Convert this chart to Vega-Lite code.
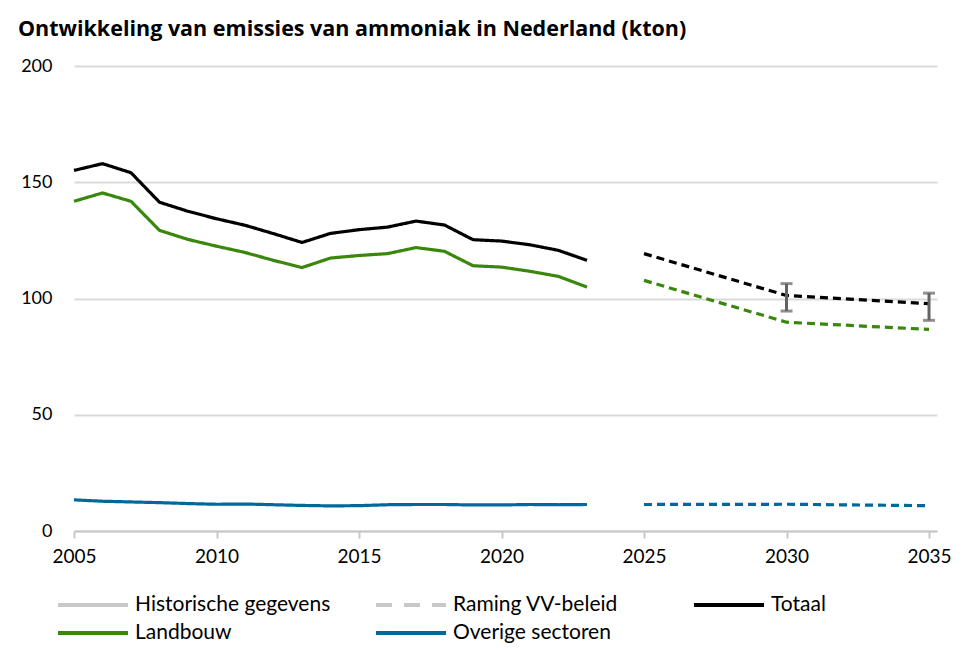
{
  "$schema": "https://vega.github.io/schema/vega-lite/v6.json",
  "width": 863,
  "height": 465,
  "autosize": "none",
  "padding": {"left": 74, "top": 66, "right": 39, "bottom": 121},
  "background": "white",
  "title": {
    "text": "Ontwikkeling van emissies van ammoniak in Nederland (kton)",
    "anchor": "start",
    "frame": "group",
    "font": "Open Sans",
    "fontSize": 21.5,
    "fontWeight": "bold",
    "color": "#000000",
    "dx": -56,
    "offset": 17
  },
  "config": {
    "view": {"stroke": null},
    "font": "Lato"
  },
  "datasets": {
    "series": [
      {"year": 2005, "value": 155.1, "serie": "Totaal", "type": "hist"},
      {"year": 2006, "value": 158.0, "serie": "Totaal", "type": "hist"},
      {"year": 2007, "value": 154.1, "serie": "Totaal", "type": "hist"},
      {"year": 2008, "value": 141.4, "serie": "Totaal", "type": "hist"},
      {"year": 2009, "value": 137.5, "serie": "Totaal", "type": "hist"},
      {"year": 2010, "value": 134.3, "serie": "Totaal", "type": "hist"},
      {"year": 2011, "value": 131.5, "serie": "Totaal", "type": "hist"},
      {"year": 2012, "value": 127.9, "serie": "Totaal", "type": "hist"},
      {"year": 2013, "value": 124.1, "serie": "Totaal", "type": "hist"},
      {"year": 2014, "value": 128.0, "serie": "Totaal", "type": "hist"},
      {"year": 2015, "value": 129.6, "serie": "Totaal", "type": "hist"},
      {"year": 2016, "value": 130.7, "serie": "Totaal", "type": "hist"},
      {"year": 2017, "value": 133.3, "serie": "Totaal", "type": "hist"},
      {"year": 2018, "value": 131.6, "serie": "Totaal", "type": "hist"},
      {"year": 2019, "value": 125.3, "serie": "Totaal", "type": "hist"},
      {"year": 2020, "value": 124.7, "serie": "Totaal", "type": "hist"},
      {"year": 2021, "value": 123.1, "serie": "Totaal", "type": "hist"},
      {"year": 2022, "value": 120.7, "serie": "Totaal", "type": "hist"},
      {"year": 2023, "value": 116.4, "serie": "Totaal", "type": "hist"},
      {"year": 2005, "value": 141.8, "serie": "Landbouw", "type": "hist"},
      {"year": 2006, "value": 145.4, "serie": "Landbouw", "type": "hist"},
      {"year": 2007, "value": 141.8, "serie": "Landbouw", "type": "hist"},
      {"year": 2008, "value": 129.3, "serie": "Landbouw", "type": "hist"},
      {"year": 2009, "value": 125.4, "serie": "Landbouw", "type": "hist"},
      {"year": 2010, "value": 122.5, "serie": "Landbouw", "type": "hist"},
      {"year": 2011, "value": 119.8, "serie": "Landbouw", "type": "hist"},
      {"year": 2012, "value": 116.4, "serie": "Landbouw", "type": "hist"},
      {"year": 2013, "value": 113.3, "serie": "Landbouw", "type": "hist"},
      {"year": 2014, "value": 117.4, "serie": "Landbouw", "type": "hist"},
      {"year": 2015, "value": 118.5, "serie": "Landbouw", "type": "hist"},
      {"year": 2016, "value": 119.3, "serie": "Landbouw", "type": "hist"},
      {"year": 2017, "value": 121.9, "serie": "Landbouw", "type": "hist"},
      {"year": 2018, "value": 120.3, "serie": "Landbouw", "type": "hist"},
      {"year": 2019, "value": 114.1, "serie": "Landbouw", "type": "hist"},
      {"year": 2020, "value": 113.5, "serie": "Landbouw", "type": "hist"},
      {"year": 2021, "value": 111.7, "serie": "Landbouw", "type": "hist"},
      {"year": 2022, "value": 109.5, "serie": "Landbouw", "type": "hist"},
      {"year": 2023, "value": 104.9, "serie": "Landbouw", "type": "hist"},
      {"year": 2005, "value": 13.4, "serie": "Overige sectoren", "type": "hist"},
      {"year": 2006, "value": 12.8, "serie": "Overige sectoren", "type": "hist"},
      {"year": 2007, "value": 12.5, "serie": "Overige sectoren", "type": "hist"},
      {"year": 2008, "value": 12.2, "serie": "Overige sectoren", "type": "hist"},
      {"year": 2009, "value": 11.8, "serie": "Overige sectoren", "type": "hist"},
      {"year": 2010, "value": 11.5, "serie": "Overige sectoren", "type": "hist"},
      {"year": 2011, "value": 11.6, "serie": "Overige sectoren", "type": "hist"},
      {"year": 2012, "value": 11.3, "serie": "Overige sectoren", "type": "hist"},
      {"year": 2013, "value": 11.0, "serie": "Overige sectoren", "type": "hist"},
      {"year": 2014, "value": 10.8, "serie": "Overige sectoren", "type": "hist"},
      {"year": 2015, "value": 10.9, "serie": "Overige sectoren", "type": "hist"},
      {"year": 2016, "value": 11.3, "serie": "Overige sectoren", "type": "hist"},
      {"year": 2017, "value": 11.4, "serie": "Overige sectoren", "type": "hist"},
      {"year": 2018, "value": 11.4, "serie": "Overige sectoren", "type": "hist"},
      {"year": 2019, "value": 11.2, "serie": "Overige sectoren", "type": "hist"},
      {"year": 2020, "value": 11.2, "serie": "Overige sectoren", "type": "hist"},
      {"year": 2021, "value": 11.4, "serie": "Overige sectoren", "type": "hist"},
      {"year": 2022, "value": 11.3, "serie": "Overige sectoren", "type": "hist"},
      {"year": 2023, "value": 11.4, "serie": "Overige sectoren", "type": "hist"},
      {"year": 2025, "value": 119.3, "serie": "Totaal", "type": "proj"},
      {"year": 2030, "value": 101.3, "serie": "Totaal", "type": "proj"},
      {"year": 2035, "value": 97.8, "serie": "Totaal", "type": "proj"},
      {"year": 2025, "value": 107.8, "serie": "Landbouw", "type": "proj"},
      {"year": 2030, "value": 89.8, "serie": "Landbouw", "type": "proj"},
      {"year": 2035, "value": 86.7, "serie": "Landbouw", "type": "proj"},
      {"year": 2025, "value": 11.4, "serie": "Overige sectoren", "type": "proj"},
      {"year": 2030, "value": 11.5, "serie": "Overige sectoren", "type": "proj"},
      {"year": 2035, "value": 10.9, "serie": "Overige sectoren", "type": "proj"}
    ],
    "bands": [
      {"year": 2030, "low": 94.6, "high": 106.4},
      {"year": 2035, "low": 90.6, "high": 102.3}
    ]
  },
  "layer": [
    {
      "data": {"name": "series"},
      "mark": {"type": "line", "strokeWidth": 3.2, "strokeCap": "butt", "strokeJoin": "round"},
      "encoding": {
        "x": {
          "field": "year",
          "type": "quantitative",
          "scale": {"domain": [2005, 2035.28], "nice": false, "zero": false},
          "axis": {
            "values": [2005, 2010, 2015, 2020, 2025, 2030, 2035],
            "format": "d",
            "title": null,
            "grid": false,
            "domainColor": "#c8c8c8",
            "domainWidth": 2,
            "tickColor": "#c8c8c8",
            "tickWidth": 2,
            "tickSize": 7,
            "labelFont": "Lato",
            "labelFontSize": 19,
            "labelColor": "#000000",
            "labelPadding": 9,
            "labelFlush": false
          }
        },
        "y": {
          "field": "value",
          "type": "quantitative",
          "scale": {"domain": [0, 200], "nice": false},
          "axis": {
            "values": [0, 50, 100, 150, 200],
            "title": null,
            "domain": false,
            "ticks": false,
            "gridColor": "#d9d9d9",
            "gridWidth": 2,
            "labelFont": "Lato",
            "labelFontSize": 18,
            "labelColor": "#000000",
            "labelPadding": 22
          }
        },
        "color": {
          "field": "serie",
          "type": "nominal",
          "scale": {
            "domain": ["Historische gegevens", "Raming VV-beleid", "Totaal", "Landbouw", "Overige sectoren"],
            "range": ["#c8c8c8", "#c8c8c8", "#000000", "#39870c", "#01689b"]
          },
          "legend": {
            "title": null,
            "orient": "none",
            "legendX": -18,
            "legendY": 523,
            "direction": "horizontal",
            "columns": 3,
            "symbolType": "M-1,0H4",
            "symbolSize": 784,
            "symbolStrokeWidth": 4,
            "symbolOffset": 0,
            "labelFont": "Lato",
            "labelFontSize": 21,
            "labelColor": "#000000",
            "labelOffset": 47,
            "columnPadding": 37,
            "rowPadding": 2,
            "gridAlign": "all",
            "labelLimit": 400,
            "encode": {
              "symbols": {
                "update": {
                  "fill": {"value": "transparent"},
                  "strokeDash": {"signal": "datum.value === 'Raming VV-beleid' ? [16, 12] : [1, 0]"}
                }
              }
            }
          }
        },
        "strokeDash": {
          "field": "type",
          "type": "nominal",
          "scale": {"domain": ["hist", "proj"], "range": [[1, 0], [8, 5]]},
          "legend": null
        },
        "detail": {"field": "type"}
      }
    },
    {
      "data": {"name": "bands"},
      "mark": {"type": "rule", "color": "#636363", "strokeWidth": 3},
      "encoding": {
        "x": {"field": "year", "type": "quantitative"},
        "y": {"field": "low", "type": "quantitative"},
        "y2": {"field": "high"}
      }
    },
    {
      "data": {"name": "bands"},
      "mark": {"type": "tick", "color": "#636363", "thickness": 3, "size": 12, "orient": "horizontal"},
      "encoding": {
        "x": {"field": "year", "type": "quantitative"},
        "y": {"field": "low", "type": "quantitative"}
      }
    },
    {
      "data": {"name": "bands"},
      "mark": {"type": "tick", "color": "#636363", "thickness": 3, "size": 12, "orient": "horizontal"},
      "encoding": {
        "x": {"field": "year", "type": "quantitative"},
        "y": {"field": "high", "type": "quantitative"}
      }
    }
  ]
}
